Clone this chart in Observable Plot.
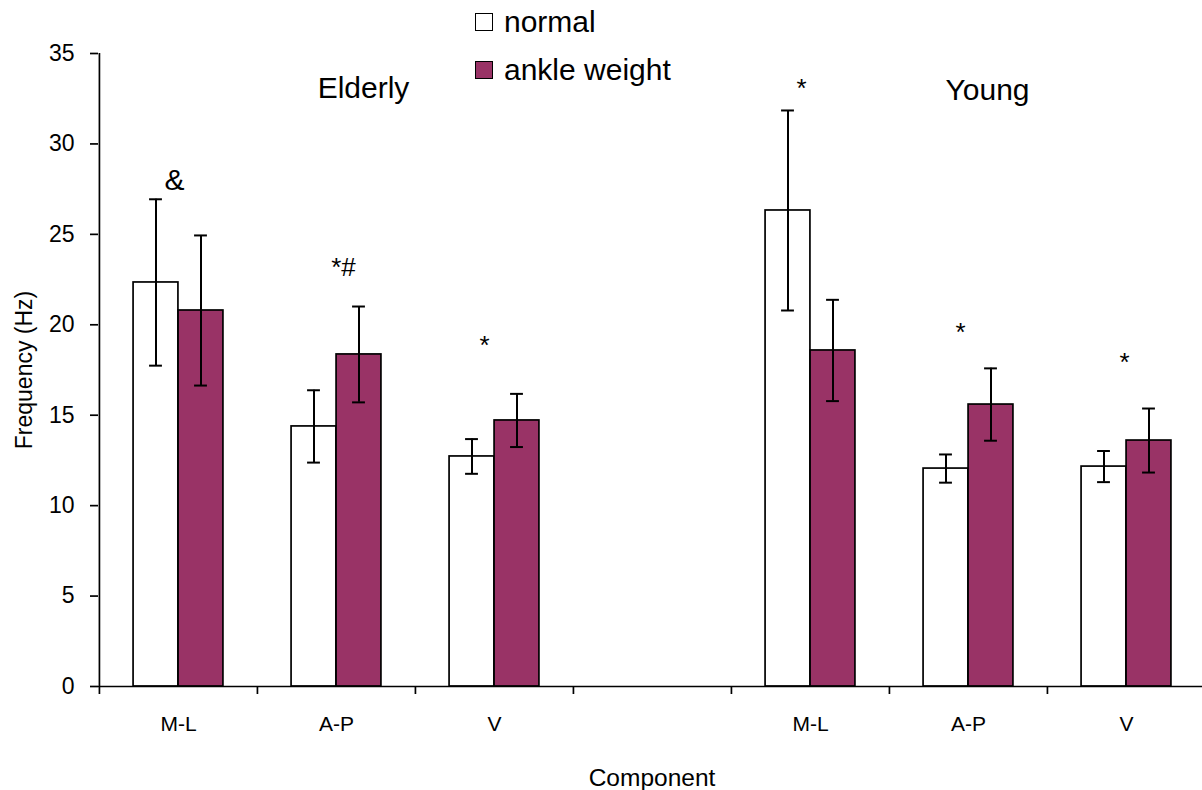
<!DOCTYPE html>
<html>
<head>
<meta charset="utf-8">
<script src="https://cdn.jsdelivr.net/npm/d3@7"></script>
<script src="https://cdn.jsdelivr.net/npm/@observablehq/plot@0.6"></script>
<style>
  html, body { margin: 0; padding: 0; background: #fff; }
  #wrap { position: relative; width: 1202px; height: 790px; overflow: hidden; font-family: "Liberation Sans", Arial, sans-serif; }
  #legend { position: absolute; left: 475px; top: 7px; }
  .row { display: flex; align-items: center; height: 30px; line-height: 30px; margin-bottom: 18px; font-size: 30px; color: #000; white-space: nowrap; }
  .sw { width: 18px; height: 18px; box-sizing: border-box; border: 1.5px solid #000; margin-right: 11px; }
</style>
</head>
<body>
<div id="wrap"><div id="legend"></div></div>
<script>
// ---- data ----
const groups = ["Elderly", "Elderly", "Elderly", "Young", "Young", "Young"];
const components = ["M-L", "A-P", "V", "M-L", "A-P", "V"];
const seriesNames = ["normal", "ankle weight"];
const normalMean = [22.34, 14.38, 12.72, 26.32, 12.05, 12.16];
const normalErr  = [4.60, 2.00, 0.96, 5.53, 0.78, 0.86];
const ankleMean  = [20.79, 18.36, 14.71, 18.58, 15.59, 13.60];
const ankleErr   = [4.15, 2.65, 1.47, 2.80, 2.00, 1.77];
const yTicks = [0, 5, 10, 15, 20, 25, 30, 35];
const gapKey = " ";
const annotKeys   = ["Elderly M-L", "Elderly A-P", "Elderly V", "Young M-L", "Young A-P", "Young V"];
const annotLabels = ["&", "*#", "*", "*", "*", "*"];
const annotY      = [27.96, 23.18, 18.87, 33.03, 19.59, 17.93];
const groupLabelKeys = ["Elderly A-P", "Young A-P"];
const groupLabels    = ["Elderly", "Young"];
const groupLabelY    = [33.08, 32.97];

// ---- derived tables ----
const keys = groups.map((g, i) => g + " " + components[i]);
const xKeys = [...keys.slice(0, 3), gapKey, ...keys.slice(3)];
const normalRows = keys.map((k, i) => ({key: k, mean: normalMean[i], err: normalErr[i]}));
const ankleRows  = keys.map((k, i) => ({key: k, mean: ankleMean[i], err: ankleErr[i]}));
const annotRows  = annotKeys.map((k, i) => ({key: k, label: annotLabels[i], y: annotY[i]}));
const groupRows  = groupLabelKeys.map((k, i) => ({key: k, label: groupLabels[i], y: groupLabelY[i]}));

// ---- styles / layout ----
const W = 1202, H = 790, ML = 98, MR = -3, MT = 53, MB = 104;
const FONT = '"Liberation Sans", Arial, sans-serif';
const PURPLE = "#993366";
const step = (W - ML - MR) / xKeys.length;
const half = step / 2, barW = 45, capHalf = 6.5;
const annotDx = [-4, 7, -10, -9, -8, -2];
const annotSize = [30, 26, 26, 26, 26, 26];
const groupDx = [27, 19];

const marks = [
  Plot.barY(normalRows, {x: "key", y: "mean", fill: "#fff", stroke: "#000", strokeWidth: 1.7, insetLeft: half - barW, insetRight: half}),
  Plot.barY(ankleRows, {x: "key", y: "mean", fill: PURPLE, stroke: "#000", strokeWidth: 1.7, insetLeft: half, insetRight: half - barW}),
  Plot.ruleX(normalRows, {x: "key", y1: d => d.mean - d.err, y2: d => d.mean + d.err, dx: -barW / 2, stroke: "#000", strokeWidth: 2}),
  Plot.ruleX(ankleRows, {x: "key", y1: d => d.mean - d.err, y2: d => d.mean + d.err, dx: barW / 2, stroke: "#000", strokeWidth: 2}),
  Plot.tickY(normalRows, {x: "key", y: d => d.mean + d.err, dx: -barW / 2, insetLeft: half - capHalf, insetRight: half - capHalf, stroke: "#000", strokeWidth: 2}),
  Plot.tickY(normalRows, {x: "key", y: d => d.mean - d.err, dx: -barW / 2, insetLeft: half - capHalf, insetRight: half - capHalf, stroke: "#000", strokeWidth: 2}),
  Plot.tickY(ankleRows, {x: "key", y: d => d.mean + d.err, dx: barW / 2, insetLeft: half - capHalf, insetRight: half - capHalf, stroke: "#000", strokeWidth: 2}),
  Plot.tickY(ankleRows, {x: "key", y: d => d.mean - d.err, dx: barW / 2, insetLeft: half - capHalf, insetRight: half - capHalf, stroke: "#000", strokeWidth: 2}),
  Plot.ruleY([0], {stroke: "#000", strokeWidth: 1.7}),
  Plot.ruleX(xKeys.slice(0, 1), {x: d => d, dx: -half, insetBottom: -8, stroke: "#000", strokeWidth: 1.7}),
  Plot.ruleX(xKeys.slice(1), {x: d => d, dx: -half, insetTop: H - MT - MB, insetBottom: -8, stroke: "#000", strokeWidth: 1.7}),
  Plot.axisY({ticks: yTicks, tickSize: 8, tickPadding: 16, fontSize: 23, strokeWidth: 1.7,
    label: "Frequency (Hz)", labelAnchor: "center", labelOffset: 83, labelArrow: "none"}),
  Plot.axisX({tickSize: 0, tickPadding: 30, fontSize: 21, tickFormat: k => k.split(" ")[1] || "", label: null}),
  Plot.axisX({ticks: [], tickSize: 0, fontSize: 24.5, label: "Component", labelAnchor: "center", labelOffset: 99, labelArrow: "none"}),
  ...annotRows.map((r, i) => Plot.text([r], {x: "key", y: "y", text: "label", dx: annotDx[i], fontSize: annotSize[i], fill: "#000"})),
  ...groupRows.map((r, i) => Plot.text([r], {x: "key", y: "y", text: "label", dx: groupDx[i], fontSize: 30, fill: "#000"}))
];

const chart = Plot.plot({
  width: W, height: H,
  marginLeft: ML, marginRight: MR, marginTop: MT, marginBottom: MB,
  style: {fontFamily: FONT, color: "#000", background: "#fff"},
  x: {domain: xKeys, padding: 0, axis: null},
  y: {domain: [0, 35], axis: null},
  marks
});
document.getElementById("wrap").prepend(chart);

// legend (HTML overlay)
const legend = document.getElementById("legend");
[["#fff", seriesNames[0]], [PURPLE, seriesNames[1]]].forEach(([c, name]) => {
  const row = document.createElement("div");
  row.className = "row";
  const sw = document.createElement("span");
  sw.className = "sw";
  sw.style.background = c;
  const t = document.createElement("span");
  t.textContent = name;
  row.append(sw, t);
  legend.append(row);
});
</script>
</body>
</html>
